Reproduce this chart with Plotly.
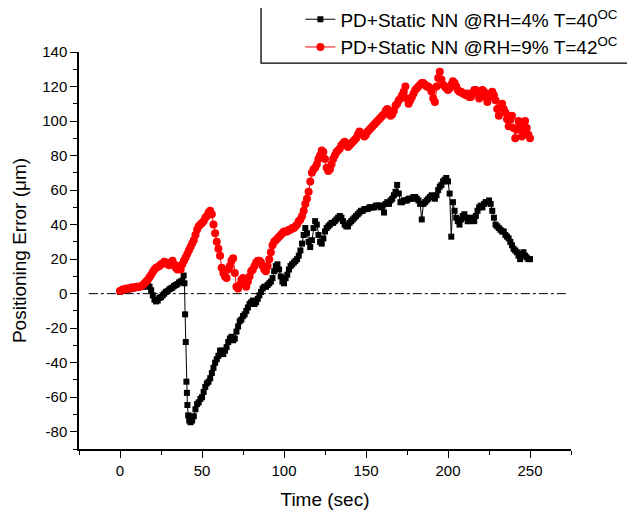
import plotly.graph_objects as go

# ---- data ----
t_black = [0, 1, 2, 3, 4, 5, 6, 7, 8, 9, 10, 11, 12, 13, 14, 15, 16, 17, 18, 19,
           20, 21, 22, 23, 24, 25, 26, 27, 28, 29, 30, 31, 32, 33, 34, 35, 36, 37, 38,
           38.8, 39.3, 39.7, 40.1, 40.5, 40.8, 41.1, 41.6, 42.2, 43,
           44, 45, 46, 47, 48, 49, 50, 51, 52, 53, 54, 55, 56, 57, 58, 59, 60,
           61, 62, 63, 64, 65, 66, 67, 68, 69, 70, 71, 72, 73, 74, 75, 76, 77, 78, 79, 80,
           81, 82, 83, 84, 85, 86, 87, 88, 89, 90, 91, 92, 93, 94, 95, 96, 97, 98, 99, 100,
           101, 102, 103, 104, 105, 106, 107, 108, 109, 110, 111, 112, 113, 114, 115, 116, 117, 118, 119, 120,
           121, 122, 123, 124, 125, 126, 127, 128, 129, 130, 131, 132, 133, 134, 135, 136, 137, 138, 139, 140,
           141, 142, 143, 144, 145, 146, 147, 148, 149, 150, 151, 152, 153, 154, 155, 156, 157, 158, 159, 160,
           161, 162, 163, 164, 165, 166, 167, 168, 169, 170, 171, 172, 173, 174, 175, 176, 177, 178, 179, 180,
           181, 182, 183, 184, 185, 186, 187, 188, 189, 190, 191, 192, 193, 194, 195, 196, 197, 198, 199, 200,
           201, 202, 203, 204, 205, 206, 207, 208, 209, 210, 211, 212, 213, 214, 215, 216, 217, 218, 219, 220,
           221, 222, 223, 224, 225, 226, 227, 228, 229, 230, 231, 232, 233, 234, 235, 236, 237, 238, 239, 240,
           241, 242, 243, 244, 245, 246, 247, 248, 249, 250]
v_black = [1.0, 1.5, 1.8, 2.0, 2.2, 2.5, 2.6, 3.0, 3.0, 3.3, 3.5, 3.5, 3.8, 4.0, 4.0, 4.2, 4.5, 4.5, 4.0, 2.0,
           -1.0, -3.5, -4.5, -4.0, -2.5, -2.0, -1.0, 0.0, 1.0, 1.5, 2.5, 3.0, 3.5, 4.5, 5.0, 5.5, 6.5, 7.0, 7.5,
           10.5, 6.0, -12.0, -28.0, -51.0, -57.5, -64.5, -70.5, -73.5, -74.5,
           -73.5, -71, -67, -64, -63, -61, -60, -57, -54, -52, -51, -49, -46, -43, -40, -38, -36,
           -33, -33, -35, -33, -31, -28, -26, -25, -27, -26, -22, -19, -16, -15, -13, -12, -10, -8, -6, -5,
           -4, -6, -5, -3, -1, 1, 3, 4, 4, 5, 6, 7, 9, 13, 16, 17, 14, 10, 7, 6,
           9, 11, 14, 16, 17, 18, 19, 20, 22, 25, 29, 34, 38, 35, 30, 27, 31, 38, 42, 40,
           34, 30, 29, 32, 36, 38, 39, 40, 41, 41, 42, 43, 44, 45, 44, 42, 40, 39, 39, 41,
           42, 43, 44, 45, 46, 47, 48, 48, 49, 49, 49, 50, 50, 50, 50, 51, 51, 51, 50, 51,
           47, 52, 53, 52, 54, 55, 57, 59, 63, 58, 53, 53, 54, 54, 54, 55, 55, 55, 56, 56,
           55, 54, 52, 43, 52, 53, 54, 55, 56, 57, 56, 55, 57, 60, 62, 63, 65, 66, 67, 65,
           58, 33, 53, 48, 44, 42, 40, 43, 45, 46, 44, 42, 42, 44, 43, 42, 45, 48, 50, 51,
           50, 52, 53, 53, 54, 52, 48, 44, 40, 39, 38, 37, 36, 36, 34, 33, 32, 30, 28, 26,
           25, 24, 22, 20, 23, 24, 22, 21, 20, 20]

t_red = list(range(0, 251))
v_red = [1.5, 2, 2.5, 2.5, 3, 3, 3, 3.5, 3.5, 3.5, 4, 4, 4, 4.5, 5, 6, 7, 8, 9.5, 11,
         12.5, 14, 15, 15.5, 16, 17, 17.5, 18.5, 18, 17, 16.5, 18, 19, 17, 15, 14, 16, 14, 17, 19,
         21, 23, 25, 27, 29, 31, 34, 37, 39, 40, 41, 42, 44, 45, 47, 48, 46, 40, 35, 30,
         26, 22, 15, 12, 10, 9, 14, 16, 19, 20.5, 12, 4, 3, 5, 8, 9, 8, 4, 7, 10,
         13, 14, 16, 18, 19, 19, 18, 16, 14, 13, 16, 20, 24, 28, 30, 31, 32, 33, 34, 35,
         36, 36, 36, 37, 37, 38, 38, 39, 40, 42, 43, 45, 48, 52, 55, 59, 65, 70, 72, 73,
         75, 78, 80, 83, 82, 78, 73, 71, 72, 75, 78, 80, 82, 83, 84, 86, 87, 88, 87, 85,
         86, 87, 88, 89, 90, 92, 94, 93, 92, 91, 92, 94, 95, 96, 97, 98, 99, 100, 101, 102,
         103, 104, 106, 107, 105, 103, 104, 106, 109, 110, 112, 113, 115, 117, 120, 113, 110, 112, 114, 116,
         118, 119, 120, 121, 122, 122, 121, 120, 120, 119, 117, 113, 111, 120, 125, 128.5, 124, 121, 120, 119,
         118, 119, 121, 123, 122, 120, 118, 117, 117, 116, 116, 115, 116, 114, 114, 116, 118, 118, 116, 113,
         116, 118, 117, 114, 111, 114, 116, 117, 115, 112, 107, 103, 108, 110, 107, 105, 101, 97, 101, 103,
         96, 90, 95, 100, 98, 91, 94, 100, 96, 92, 90]

name_black = "PD+Static NN @RH=4% T=40<sup>OC</sup>"
name_red = "PD+Static NN @RH=9% T=42<sup>OC</sup>"

x_tick_vals = [0, 50, 100, 150, 200, 250]
x_tick_text = ["0", "50", "100", "150", "200", "250"]
y_tick_vals = [-80, -60, -40, -20, 0, 20, 40, 60, 80, 100, 120, 140]
y_tick_text = ["-80", "-60", "-40", "-20", "0", "20", "40", "60", "80", "100", "120", "140"]

FONT = "Arial, Liberation Sans, sans-serif"

fig = go.Figure()
fig.add_trace(go.Scatter(
    x=t_black, y=v_black, mode="lines+markers", name=name_black,
    line=dict(color="black", width=1),
    marker=dict(symbol="square", size=6, color="black"),
))
fig.add_trace(go.Scatter(
    x=t_red, y=v_red, mode="lines+markers", name=name_red,
    line=dict(color="red", width=1),
    marker=dict(symbol="circle", size=8, color="red"),
))

# zero reference line (dash-dot)
fig.add_shape(type="line", xref="x", yref="y", x0=-19, x1=272, y0=0, y1=0,
              line=dict(color="black", width=1, dash="dashdot"), layer="below")
# legend frame (runs off the right edge like in the reference)
fig.add_shape(type="rect", xref="paper", yref="paper", x0=0.370, x1=1.25, y0=0.972, y1=1.14,
              line=dict(color="black", width=1.3), fillcolor="white", layer="above")

axis_common = dict(
    showline=True, linecolor="black", linewidth=1.5, mirror=False,
    ticks="outside", ticklen=7, tickwidth=1.2, tickcolor="black",
    showgrid=False, zeroline=False, automargin=False,
    tickfont=dict(family=FONT, size=15, color="black"),
)

fig.update_xaxes(
    range=[-25, 275], tickvals=x_tick_vals, ticktext=x_tick_text,
    minor=dict(dtick=25, tick0=0, ticks="outside", ticklen=4, tickcolor="black", tickwidth=1.2),
    title=dict(text="Time (sec)", font=dict(family=FONT, size=19, color="black"), standoff=15),
    **axis_common,
)
fig.update_yaxes(
    range=[-90, 140], tickvals=y_tick_vals, ticktext=y_tick_text,
    minor=dict(dtick=10, tick0=0, ticks="outside", ticklen=4, tickcolor="black", tickwidth=1.2),
    title=dict(text="Positioning Error (μm)", font=dict(family=FONT, size=19, color="black"), standoff=11),
    **axis_common,
)

# the page body adds an 8 px offset, so the figure is 8 px smaller and margins shifted
fig.update_layout(
    width=627, height=508,
    margin=dict(l=71, r=64, t=44, b=67, autoexpand=False),
    paper_bgcolor="white", plot_bgcolor="white",
    font=dict(family=FONT, color="black"),
    showlegend=True,
    legend=dict(
        x=0.45, y=1.13, xanchor="left", yanchor="top",
        bgcolor="rgba(0,0,0,0)", borderwidth=0,
        font=dict(family=FONT, size=19, color="black"),
        tracegroupgap=0, itemsizing="trace",
    ),
)

fig.write_html("out.html")
